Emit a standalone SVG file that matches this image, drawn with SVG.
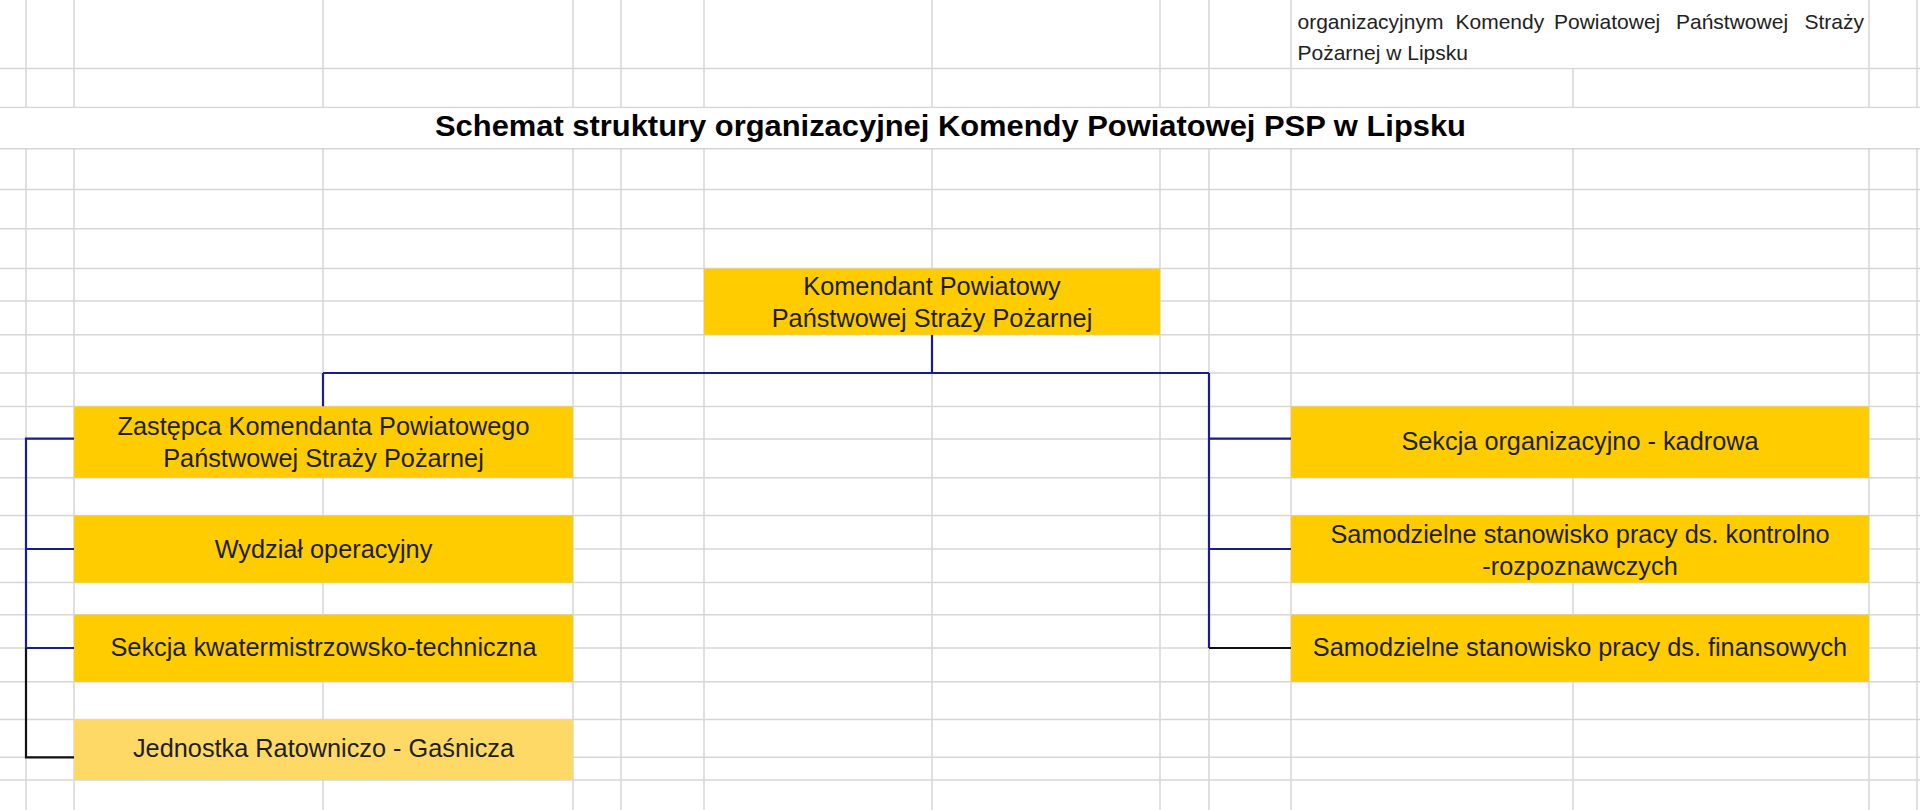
<svg xmlns="http://www.w3.org/2000/svg" width="1920" height="810" viewBox="0 0 1920 810">
<style>
.grid line{stroke:#d6d6d6;stroke-width:1.5}
.box{fill:#ffcc00}
.box2{fill:#ffd966}
.t{font-family:"Liberation Sans",Arial,sans-serif;font-size:25.3px;fill:#1e1e1e;text-anchor:middle}
.note{font-family:"Liberation Sans",Arial,sans-serif;font-size:21px;fill:#222}
.title{font-family:"Liberation Sans",Arial,sans-serif;font-size:29px;font-weight:bold;fill:#000}
.c{fill:none;stroke:#1c1c8c;stroke-width:2.2}
.k{fill:none;stroke:#111;stroke-width:2.2}
</style>
<rect x="0" y="0" width="1920" height="810" fill="#ffffff"/>
<g class="grid">
  <line x1="0" y1="68.5" x2="1920" y2="68.5"/>
  <line x1="0" y1="107.5" x2="1920" y2="107.5"/>
  <line x1="0" y1="148.8" x2="1920" y2="148.8"/>
  <line x1="0" y1="189.6" x2="1920" y2="189.6"/>
  <line x1="0" y1="228.8" x2="1920" y2="228.8"/>
  <line x1="0" y1="268.6" x2="1920" y2="268.6"/>
  <line x1="0" y1="301" x2="1920" y2="301"/>
  <line x1="0" y1="334.7" x2="1920" y2="334.7"/>
  <line x1="0" y1="373" x2="1920" y2="373"/>
  <line x1="0" y1="406.5" x2="1920" y2="406.5"/>
  <line x1="0" y1="439" x2="1920" y2="439"/>
  <line x1="0" y1="477.8" x2="1920" y2="477.8"/>
  <line x1="0" y1="515.5" x2="1920" y2="515.5"/>
  <line x1="0" y1="549" x2="1920" y2="549"/>
  <line x1="0" y1="582.6" x2="1920" y2="582.6"/>
  <line x1="0" y1="614.7" x2="1920" y2="614.7"/>
  <line x1="0" y1="648" x2="1920" y2="648"/>
  <line x1="0" y1="681.8" x2="1920" y2="681.8"/>
  <line x1="0" y1="719.5" x2="1920" y2="719.5"/>
  <line x1="0" y1="757.3" x2="1920" y2="757.3"/>
  <line x1="0" y1="780" x2="1920" y2="780"/>
  <line x1="26" y1="0" x2="26" y2="107.5"/><line x1="26" y1="148.8" x2="26" y2="810"/>
  <line x1="74" y1="0" x2="74" y2="107.5"/><line x1="74" y1="148.8" x2="74" y2="810"/>
  <line x1="323" y1="0" x2="323" y2="107.5"/><line x1="323" y1="148.8" x2="323" y2="810"/>
  <line x1="573" y1="0" x2="573" y2="107.5"/><line x1="573" y1="148.8" x2="573" y2="810"/>
  <line x1="621" y1="0" x2="621" y2="107.5"/><line x1="621" y1="148.8" x2="621" y2="810"/>
  <line x1="704" y1="0" x2="704" y2="107.5"/><line x1="704" y1="148.8" x2="704" y2="810"/>
  <line x1="932" y1="0" x2="932" y2="107.5"/><line x1="932" y1="148.8" x2="932" y2="810"/>
  <line x1="1160" y1="0" x2="1160" y2="107.5"/><line x1="1160" y1="148.8" x2="1160" y2="810"/>
  <line x1="1209" y1="0" x2="1209" y2="107.5"/><line x1="1209" y1="148.8" x2="1209" y2="810"/>
  <line x1="1291" y1="0" x2="1291" y2="107.5"/><line x1="1291" y1="148.8" x2="1291" y2="810"/>
  <line x1="1573" y1="68.5" x2="1573" y2="107.5"/><line x1="1573" y1="148.8" x2="1573" y2="810"/>
  <line x1="1869" y1="0" x2="1869" y2="107.5"/><line x1="1869" y1="148.8" x2="1869" y2="810"/>
  <line x1="1917" y1="0" x2="1917" y2="107.5"/><line x1="1917" y1="148.8" x2="1917" y2="810"/>
</g>
<rect x="1292" y="0" width="576" height="67.5" fill="#ffffff"/>
<g id="note">
  <text class="note" y="28.5"><tspan x="1297.5">organizacyjnym</tspan><tspan x="1455.5">Komendy</tspan><tspan x="1554">Powiatowej</tspan><tspan x="1676">Państwowej</tspan><tspan x="1864" text-anchor="end">Straży</tspan></text>
  <text class="note" x="1297.5" y="60">Pożarnej w Lipsku</text>
</g>
<g id="title">
  <rect x="0" y="108.3" width="1920" height="39.7" fill="#ffffff"/>
  <text class="title" x="435" y="135.5" textLength="1031" lengthAdjust="spacingAndGlyphs">Schemat struktury organizacyjnej Komendy Powiatowej PSP w Lipsku</text>
</g>
<g id="connectors">
  <path class="c" d="M932,334.7 V373 M323,373 H1209 M323,373 V406.5 M1209,373 V648 M1209,438.7 H1291 M1209,549 H1291"/>
  <path class="k" d="M1209,648 H1291"/>
  <path class="c" d="M74,438.7 H26 V648 M26,549 H74 M26,648 H74"/>
  <path class="k" d="M26,648 V757.3 H74"/>
</g>
<g id="node-komendant">
  <rect class="box" x="704" y="268.6" width="456" height="66.1"/>
  <text class="t" x="932" y="295">Komendant Powiatowy</text>
  <text class="t" x="932" y="327">Państwowej Straży Pożarnej</text>
</g>
<g id="node-zastepca">
  <rect class="box" x="74" y="406.5" width="499" height="71.3"/>
  <text class="t" x="323.5" y="435">Zastępca Komendanta Powiatowego</text>
  <text class="t" x="323.5" y="467">Państwowej Straży Pożarnej</text>
</g>
<g id="node-wydzial">
  <rect class="box" x="74" y="515.5" width="499" height="67.1"/>
  <text class="t" x="323.5" y="558">Wydział operacyjny</text>
</g>
<g id="node-sekcja-kt">
  <rect class="box" x="74" y="614.7" width="499" height="67.1"/>
  <text class="t" x="323.5" y="656">Sekcja kwatermistrzowsko-techniczna</text>
</g>
<g id="node-jrg">
  <rect class="box2" x="74" y="719.5" width="499" height="60.5"/>
  <text class="t" x="323.5" y="757">Jednostka Ratowniczo - Gaśnicza</text>
</g>
<g id="node-sekcja-ok">
  <rect class="box" x="1291" y="406.5" width="578" height="71.3"/>
  <text class="t" x="1580" y="450">Sekcja organizacyjno - kadrowa</text>
</g>
<g id="node-kontrolno">
  <rect class="box" x="1291" y="515.5" width="578" height="67.1"/>
  <text class="t" x="1580" y="543">Samodzielne stanowisko pracy ds. kontrolno</text>
  <text class="t" x="1580" y="575">-rozpoznawczych</text>
</g>
<g id="node-finansowe">
  <rect class="box" x="1291" y="614.7" width="578" height="67.1"/>
  <text class="t" x="1580" y="656">Samodzielne stanowisko pracy ds. finansowych</text>
</g>
</svg>
